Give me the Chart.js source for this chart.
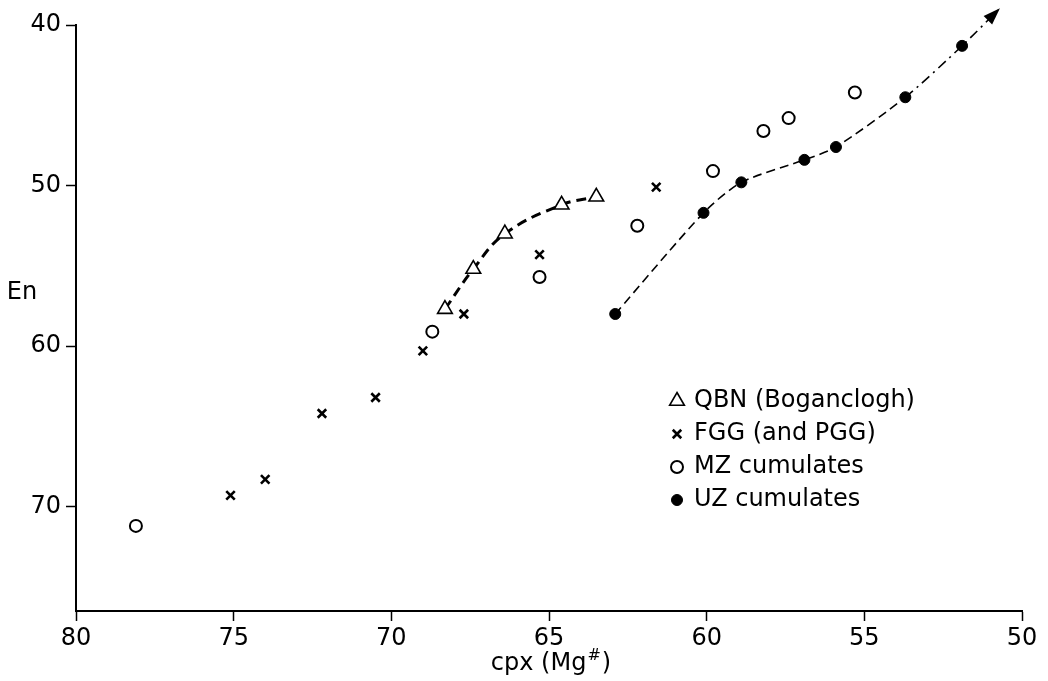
<!DOCTYPE html>
<html>
<head>
<meta charset="utf-8">
<title>cpx Mg# vs En</title>
<script src="https://cdn.jsdelivr.net/npm/chart.js@4.4.0/dist/chart.umd.min.js"></script>
<style>
    html, body { margin: 0; padding: 0; background: #fff; }
    #wrap { width: 1048px; height: 681px; }
</style>
</head>
<body>
<div id="wrap"><canvas id="chart" width="1048" height="681"></canvas></div>
<script>
// Values (x = cpx Mg#, y = En)
const qbnX = [68.3, 67.4, 66.4, 64.6, 63.5];
const qbnY = [57.7, 55.2, 53.0, 51.2, 50.7];

const fggX = [75.1, 74.0, 72.2, 70.5, 69.0, 67.7, 65.3, 61.6];
const fggY = [69.3, 68.3, 64.2, 63.2, 60.3, 58.0, 54.3, 50.1];

const mzX = [78.1, 68.7, 65.3, 62.2, 59.8, 58.2, 57.4, 55.3];
const mzY = [71.2, 59.1, 55.7, 52.5, 49.1, 46.6, 45.8, 44.2];

const uzX = [62.9, 60.1, 58.9, 56.9, 55.9, 53.7, 51.9];
const uzY = [58.0, 51.7, 49.8, 48.4, 47.6, 44.5, 41.3];

// Where the UZ trend arrow ends (runs past the top of the axis)
const uzArrowX = 50.7;
const uzArrowY = 38.95;

// Axis ticks
const xTicks = [80, 75, 70, 65, 60, 55, 50];
const yTicks = [40, 50, 60, 70];

// Legend labels
const legendLabels = ['QBN (Boganclogh)', 'FGG (and PGG)', 'MZ cumulates', 'UZ cumulates'];

const FONT = 'DejaVu Sans';

/** Zip two value arrays into Chart.js points */
function toPoints(arrX, arrY) {
    return arrX.map((x, i) => ({ x: x, y: arrY[i] }));
}

/** Draws the arrowhead, the axis titles and the legend box */
const overlayPlugin = {
    id: 'overlay',
    afterDatasetsDraw(chart) {
        const ctx = chart.ctx;
        const pts = chart.getDatasetMeta(4).data;
        const end = pts[pts.length - 1];
        const prev = pts[pts.length - 2];
        const cx = end.cp1x !== undefined ? end.cp1x : prev.x;
        const cy = end.cp1y !== undefined ? end.cp1y : prev.y;
        const ang = Math.atan2(end.y - cy, end.x - cx);
        ctx.save();
        ctx.translate(end.x, end.y);
        ctx.rotate(ang);
        ctx.fillStyle = '#000';
        ctx.beginPath();
        ctx.moveTo(0, 0);
        ctx.lineTo(-17, -6);
        ctx.lineTo(-17, 6);
        ctx.closePath();
        ctx.fill();
        ctx.restore();
    },
    afterDraw(chart) {
        const ctx = chart.ctx;
        ctx.save();
        ctx.fillStyle = '#000';
        ctx.textBaseline = 'middle';

        // y axis title, upright, left of the axis
        ctx.font = `24px "${FONT}"`;
        ctx.textAlign = 'center';
        ctx.fillText('En', 22, 293);

        // x axis title with a superscript #
        ctx.textAlign = 'left';
        const strMain = 'cpx (Mg';
        const wMain = ctx.measureText(strMain).width;
        ctx.font = `16px "${FONT}"`;
        const wSup = ctx.measureText('#').width;
        ctx.font = `24px "${FONT}"`;
        const wClose = ctx.measureText(')').width;
        let xPos = 551 - (wMain + wSup + 2 + wClose) / 2;
        ctx.fillText(strMain, xPos, 664);
        xPos += wMain + 1;
        ctx.font = `16px "${FONT}"`;
        ctx.fillText('#', xPos, 656);
        xPos += wSup + 1;
        ctx.font = `24px "${FONT}"`;
        ctx.fillText(')', xPos, 664);

        // Legend, inside the plot area
        const drawPoint = Chart.helpers.drawPoint;
        chart.data.datasets.slice(0, 4).forEach((ds, i) => {
            const y = 401 + i * 33;
            ctx.fillStyle = ds.pointBackgroundColor;
            ctx.strokeStyle = '#000';
            ctx.lineWidth = ds.pointBorderWidth;
            ctx.setLineDash([]);
            drawPoint(ctx, {
                pointStyle: ds.pointStyle,
                radius: ds.pointRadius,
                borderWidth: ds.pointBorderWidth,
                rotation: 0
            }, 677, y);
            ctx.fillStyle = '#000';
            ctx.font = `24px "${FONT}"`;
            ctx.fillText(legendLabels[i], 694, y);
        });
        ctx.restore();
    }
};

const axisCommon = {
    type: 'linear',
    reverse: true,
    border: { display: true, color: '#000', width: 2 },
    grid: { drawOnChartArea: false, drawTicks: true, tickLength: 10, tickColor: '#000', tickWidth: 1.5 },
    ticks: { color: '#000', font: { family: FONT, size: 24 }, maxRotation: 0 }
};

const ctx = document.getElementById('chart').getContext('2d');
new Chart(ctx, {
    type: 'scatter',
    data: {
        datasets: [{
            label: legendLabels[0],
            data: toPoints(qbnX, qbnY),
            showLine: true,
            tension: 0.4,
            borderColor: '#000',
            borderWidth: 3,
            borderDash: [10, 6],
            pointStyle: 'triangle',
            pointRadius: 8.5,
            pointBackgroundColor: '#fff',
            pointBorderColor: '#000',
            pointBorderWidth: 1.6
        }, {
            label: legendLabels[1],
            data: toPoints(fggX, fggY),
            pointStyle: 'crossRot',
            pointRadius: 6,
            pointBackgroundColor: '#000',
            pointBorderColor: '#000',
            pointBorderWidth: 2.6
        }, {
            label: legendLabels[2],
            data: toPoints(mzX, mzY),
            pointStyle: 'circle',
            pointRadius: 6,
            pointBackgroundColor: '#fff',
            pointBorderColor: '#000',
            pointBorderWidth: 2
        }, {
            label: legendLabels[3],
            data: toPoints(uzX, uzY),
            pointStyle: 'circle',
            pointRadius: 5.5,
            pointBackgroundColor: '#000',
            pointBorderColor: '#000',
            pointBorderWidth: 1
        }, {
            // UZ trend line, dash-dot near its end, runs out of the box to the arrow
            label: 'UZ trend',
            data: toPoints([...uzX, uzArrowX], [...uzY, uzArrowY]),
            showLine: true,
            tension: 0.25,
            clip: false,
            borderColor: '#000',
            borderWidth: 1.6,
            borderDash: [9, 5],
            segment: {
                borderDash: c => c.p0DataIndex >= 5 ? [10, 5, 2, 5] : undefined
            },
            pointRadius: 0
        }]
    },
    options: {
        responsive: false,
        animation: false,
        events: [],
        layout: { padding: { top: 25, right: 26, left: 0, bottom: 0 } },
        plugins: {
            legend: { display: false },
            tooltip: { enabled: false }
        },
        scales: {
            x: {
                ...axisCommon,
                min: 50,
                max: 80,
                afterBuildTicks: s => { s.ticks = xTicks.map(v => ({ value: v })); },
                afterFit: s => { s.height = 70; },
                ticks: { ...axisCommon.ticks, padding: 3 }
            },
            y: {
                ...axisCommon,
                min: 40,
                max: 76.5,
                afterBuildTicks: s => { s.ticks = yTicks.map(v => ({ value: v })); },
                afterFit: s => { s.width = 76; },
                ticks: { ...axisCommon.ticks, padding: 5 }
            }
        }
    },
    plugins: [overlayPlugin]
});
</script>
</body>
</html>
